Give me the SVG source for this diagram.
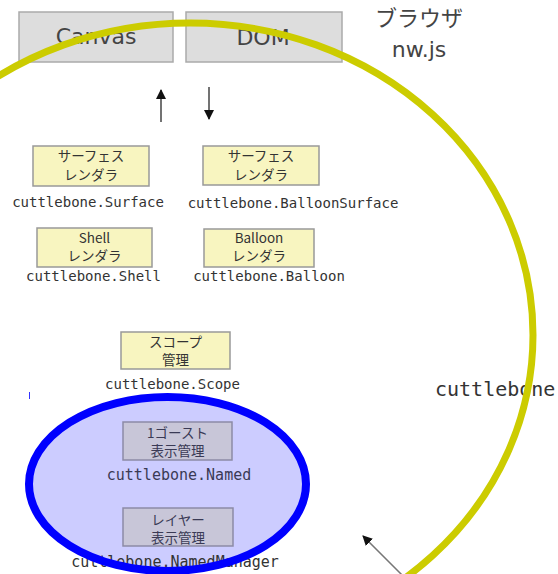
<svg xmlns="http://www.w3.org/2000/svg" width="558" height="574" viewBox="0 0 558 574">
<style>
.gbox{fill:#dddddd;stroke:#aaaaaa;stroke-width:1.5}
.ybox{fill:#f8f5c0;stroke:#999999;stroke-width:1.5}
.pbox{fill:#c8c6d8;stroke:#8c8aa6;stroke-width:1.5}
.big{font-family:"DejaVu Sans","Noto Sans CJK JP",sans-serif;font-size:22px;fill:#444444;text-anchor:middle}
.jp{font-family:"Noto Sans CJK JP",sans-serif;font-size:13.5px;fill:#333333;text-anchor:middle}
.jpp{font-family:"Noto Sans CJK JP",sans-serif;font-size:13.5px;fill:#3a3a55;text-anchor:middle}
.mono{font-family:"DejaVu Sans Mono",monospace;font-size:14px;fill:#333333;text-anchor:middle}
.monop{font-family:"DejaVu Sans Mono",monospace;font-size:15px;fill:#3a3a55;text-anchor:middle}
.conn{stroke:#444444;stroke-width:1.5;fill:none}
</style>
<defs>
<marker id="ah" viewBox="0 0 10 10" refX="9" refY="5" markerWidth="10" markerHeight="10" markerUnits="userSpaceOnUse" orient="auto">
<path d="M0,0 L10,5 L0,10 Z" fill="#111111"/>
</marker>
</defs>
<rect width="558" height="574" fill="#ffffff"/>

<g id="canvas">
<rect class="gbox" x="19" y="12" width="154" height="50"/>
<text class="big" x="96" y="44">Canvas</text>
</g>
<g id="dom">
<rect class="gbox" x="186" y="12" width="156" height="50"/>
<text class="big" x="263" y="45">DOM</text>
</g>
<g id="browser">
<text class="big" x="419" y="26">ブラウザ</text>
<text class="big" x="419" y="57">nw.js</text>
</g>

<g id="surface">
<rect class="ybox" x="33" y="146" width="116" height="40"/>
<text class="jp" x="91" y="161">サーフェス</text>
<text class="jp" x="91" y="180">レンダラ</text>
<text class="mono" x="88" y="207">cuttlebone.Surface</text>
</g>
<g id="balloonSurface">
<rect class="ybox" x="203" y="146" width="116" height="39"/>
<text class="jp" x="261" y="161">サーフェス</text>
<text class="jp" x="261" y="180">レンダラ</text>
<text class="mono" x="293" y="208">cuttlebone.BalloonSurface</text>
</g>
<g id="shell">
<rect class="ybox" x="37" y="228" width="115" height="39"/>
<text class="jp" x="94.5" y="243">Shell</text>
<text class="jp" x="94.5" y="261">レンダラ</text>
<text class="mono" x="93.5" y="281">cuttlebone.Shell</text>
</g>
<g id="balloon">
<rect class="ybox" x="204" y="229" width="110" height="38"/>
<text class="jp" x="259" y="243">Balloon</text>
<text class="jp" x="259" y="261">レンダラ</text>
<text class="mono" x="269" y="281">cuttlebone.Balloon</text>
</g>
<g id="scope">
<rect class="ybox" x="121" y="332" width="109" height="37"/>
<text class="jp" x="175.5" y="347">スコープ</text>
<text class="jp" x="175.5" y="365">管理</text>
<text class="mono" x="172.5" y="389">cuttlebone.Scope</text>
</g>

<g id="namedGroup">
<ellipse cx="167.5" cy="484" rx="138.5" ry="87" fill="#ccccff"/>
<g id="named">
<rect class="pbox" x="123" y="422" width="109" height="38"/>
<text class="jpp" x="177.5" y="438">1ゴースト</text>
<text class="jpp" x="177.5" y="456">表示管理</text>
<text class="monop" x="179" y="480">cuttlebone.Named</text>
</g>
<g id="namedManager">
<rect class="pbox" x="123" y="508" width="110" height="38"/>
<text class="jpp" x="178" y="525">レイヤー</text>
<text class="jpp" x="178" y="543">表示管理</text>
<text class="mono" x="175" y="567" style="font-size:15px">cuttlebone.NamedManager</text>
</g>
<ellipse cx="167.5" cy="484" rx="138.5" ry="87" fill="none" stroke="#0000ff" stroke-width="8"/>
<line x1="29.5" y1="392" x2="29.5" y2="399" stroke="#3333ff" stroke-width="1"/>
</g>

<g id="cuttlebone">
<text x="435" y="396" style="font-family:'DejaVu Sans Mono',monospace;font-size:20px;fill:#333333">cuttlebone</text>
<ellipse cx="190" cy="335" rx="343" ry="312" fill="none" stroke="#cccc00" stroke-width="7"/>
</g>

<g id="connectors">
<line class="conn" x1="161" y1="122" x2="161" y2="90" marker-end="url(#ah)"/>
<line class="conn" x1="209" y1="87" x2="209" y2="119" marker-end="url(#ah)"/>
<line x1="405" y1="578" x2="363" y2="536" stroke="#777777" stroke-width="1.5" marker-end="url(#ah)"/>
</g>
</svg>
